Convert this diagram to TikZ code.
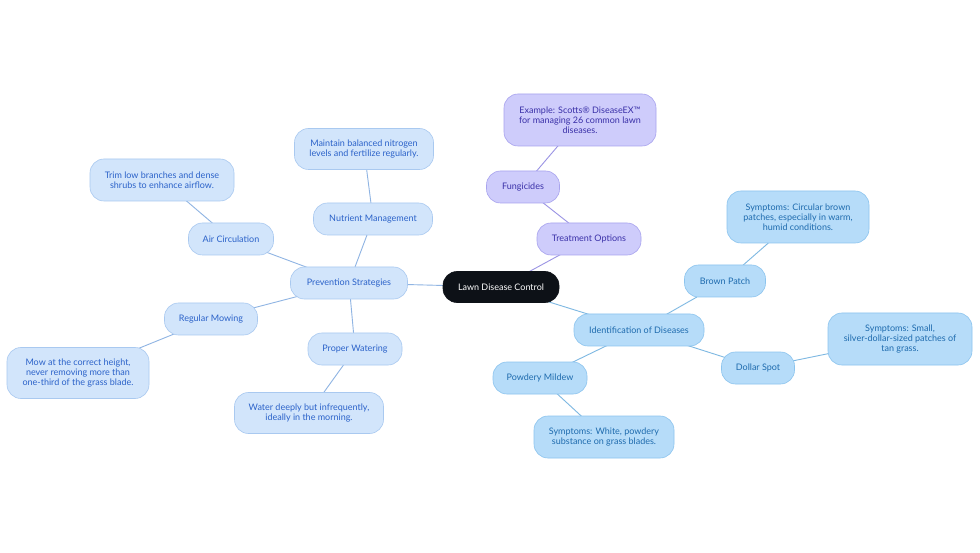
\documentclass[tikz,border=0pt]{standalone}
\usepackage{fontspec}
\setmainfont{Lato}
\usetikzlibrary{backgrounds}
\definecolor{lfill}{HTML}{D2E5FB}
\definecolor{ldraw}{HTML}{A9C9F0}
\definecolor{ltext}{HTML}{2B62C9}
\definecolor{ledge}{HTML}{8FB4E3}
\definecolor{rfill}{HTML}{B6DCF9}
\definecolor{rdraw}{HTML}{8CC4EE}
\definecolor{rtext}{HTML}{1E6BAE}
\definecolor{redge}{HTML}{7DB8E2}
\definecolor{pfill}{HTML}{CECCFB}
\definecolor{pdraw}{HTML}{A8A3EE}
\definecolor{ptext}{HTML}{3A30A8}
\definecolor{pedge}{HTML}{9A93E4}
\definecolor{cfill}{HTML}{0D1117}
\tikzset{
  x=1pt,y=-1pt,
  box/.style={rectangle,rounded corners=14pt,align=center,inner sep=0pt,
    font=\fontsize{9}{10.2}\selectfont,line width=0.6pt},
  lbox/.style={box,fill=lfill,draw=ldraw,text=ltext},
  rbox/.style={box,fill=rfill,draw=rdraw,text=rtext},
  pbox/.style={box,fill=pfill,draw=pdraw,text=ptext},
  cbox/.style={box,fill=cfill,draw=cfill,text=white},
  ledgestyle/.style={draw=ledge,line width=0.9pt},
  redgestyle/.style={draw=redge,line width=0.9pt},
  pedgestyle/.style={draw=pedge,line width=0.9pt},
}
\begin{document}
\begin{tikzpicture}
\useasboundingbox (0,0) rectangle (980,553);
% center
\node[cbox,minimum width=116pt,minimum height=31pt] (c) at (501,287) {Lawn Disease Control};
% treatment
\node[pbox,minimum width=104pt,minimum height=32pt] (tr) at (589,239) {Treatment Options};
\node[pbox,minimum width=73pt,minimum height=32pt] (fu) at (523,187) {Fungicides};
\node[pbox,minimum width=152pt,minimum height=52pt] (ex) at (580,120) {Example: Scotts® DiseaseEX™\\for managing 26 common lawn\\diseases.};
% identification
\node[rbox,minimum width=130pt,minimum height=32pt] (id) at (639,330) {Identification of Diseases};
\node[rbox,minimum width=81pt,minimum height=32pt] (bp) at (725,281) {Brown Patch};
\node[rbox,minimum width=142pt,minimum height=52pt] (bps) at (798,217) {Symptoms: Circular brown\\patches, especially in warm,\\humid conditions.};
\node[rbox,minimum width=73pt,minimum height=32pt] (ds) at (758,368) {Dollar Spot};
\node[rbox,minimum width=144pt,minimum height=52pt] (dss) at (900,339) {Symptoms: Small,\\silver-dollar-sized patches of\\tan grass.};
\node[rbox,minimum width=94pt,minimum height=32pt] (pm) at (540,378) {Powdery Mildew};
\node[rbox,minimum width=140pt,minimum height=42pt] (pms) at (604,437) {Symptoms: White, powdery\\substance on grass blades.};
% prevention
\node[lbox,minimum width=117pt,minimum height=32pt] (pr) at (349,283) {Prevention Strategies};
\node[lbox,minimum width=119pt,minimum height=32pt] (nm) at (373,219) {Nutrient Management};
\node[lbox,minimum width=139pt,minimum height=41pt] (nms) at (364,149) {Maintain balanced nitrogen\\levels and fertilize regularly.};
\node[lbox,minimum width=85pt,minimum height=32pt] (ac) at (231,239) {Air Circulation};
\node[lbox,minimum width=144pt,minimum height=42pt] (acs) at (162,180) {Trim low branches and dense\\shrubs to enhance airflow.};
\node[lbox,minimum width=93pt,minimum height=32pt] (rm) at (211,319) {Regular Mowing};
\node[lbox,minimum width=142pt,minimum height=51pt] (rms) at (78,373) {Mow at the correct height,\\never removing more than\\one-third of the grass blade.};
\node[lbox,minimum width=94pt,minimum height=32pt] (pw) at (355,349) {Proper Watering};
\node[lbox,minimum width=149pt,minimum height=41pt] (pws) at (309,413) {Water deeply but infrequently,\\ideally in the morning.};
\begin{scope}[on background layer]
\fill[white] (0,0) rectangle (980,553);
\path[pedgestyle] (c.center) -- (tr.center);
\path[pedgestyle] (tr.center) -- (fu.center);
\path[pedgestyle] (fu.center) -- (ex.center);
\path[redgestyle] (c.center) -- (id.center);
\path[redgestyle] (id.center) -- (bp.center);
\path[redgestyle] (bp.center) -- (bps.center);
\path[redgestyle] (id.center) -- (ds.center);
\path[redgestyle] (ds.center) -- (dss.center);
\path[redgestyle] (id.center) -- (pm.center);
\path[redgestyle] (pm.center) -- (pms.center);
\path[ledgestyle] (c.center) -- (pr.center);
\path[ledgestyle] (pr.center) -- (nm.center);
\path[ledgestyle] (nm.center) -- (nms.center);
\path[ledgestyle] (pr.center) -- (ac.center);
\path[ledgestyle] (ac.center) -- (acs.center);
\path[ledgestyle] (pr.center) -- (rm.center);
\path[ledgestyle] (rm.center) -- (rms.center);
\path[ledgestyle] (pr.center) -- (pw.center);
\path[ledgestyle] (pw.center) -- (pws.center);
\end{scope}
\end{tikzpicture}
\end{document}
